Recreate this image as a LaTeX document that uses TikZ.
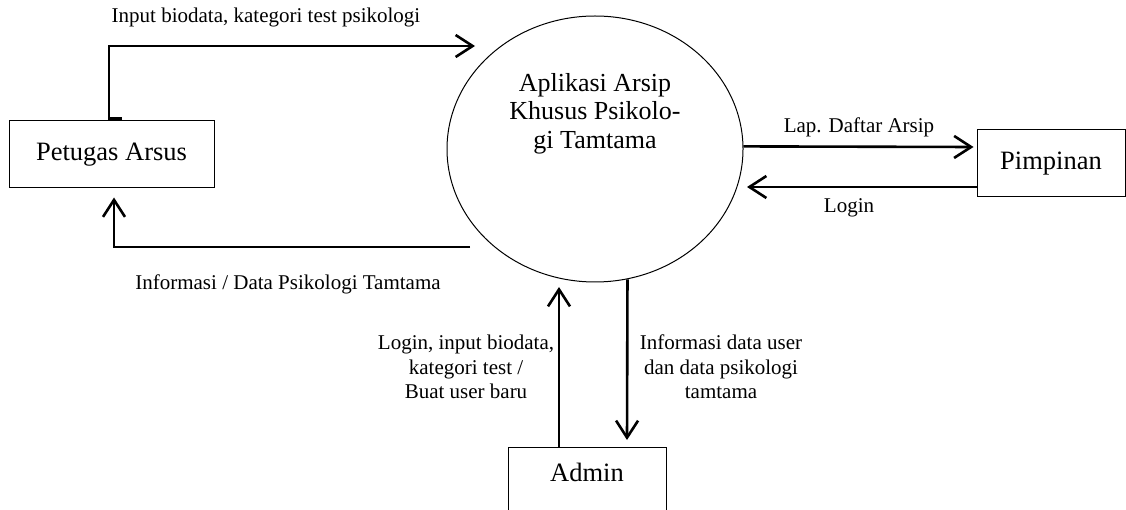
\documentclass[tikz,border=0pt]{standalone}
\usepackage{fontspec}
\setmainfont{Liberation Serif}
\usetikzlibrary{arrows.meta,shapes.geometric,calc}
\begin{document}
\begin{tikzpicture}[x=1pt,y=-1pt,
  flow/.style={line width=2.6pt,-{Straight Barb[length=17pt,width=22pt,line width=2.6pt]}},
  plainflow/.style={line width=2.6pt},
  entity/.style={draw,line width=1pt,inner sep=0pt,font=\fontsize{26.5}{28.5}\selectfont},
  lbl/.style={inner sep=0pt,align=center,font=\fontsize{21}{24.5}\selectfont}]
\useasboundingbox (0,0) rectangle (1126,510);
\clip (0,0) rectangle (1126,510);
% process
\node[ellipse,draw,line width=1pt,minimum width=296pt,minimum height=266pt,inner sep=0pt] (app) at (595,149) {};
\node[inner sep=0pt,align=center,font=\fontsize{26}{28.5}\selectfont] (apptitle) at (595,113.5) {Aplikasi Arsip\\Khusus Psikolo-\\gi Tamtama};
% entities
\node[entity,minimum width=205pt,minimum height=67pt] (pet) at (111.5,154.5) {Petugas Arsus};
\node[entity,minimum width=148pt,minimum height=67pt] (pim) at (1051,163.5) {Pimpinan};
\node[entity,minimum width=158pt,anchor=north,text height=34pt,text depth=66pt] (admin) at (587,447) {Admin};
% coordinates for free ends
\coordinate (inEnd) at (475,46);
\coordinate (infStart) at (470,247);
\coordinate (loginEnd) at (747,187);
\coordinate (upEnd) at (559,287);
% Petugas -> app
\draw[plainflow] ([xshift=10.5pt,yshift=2pt]pet.north) -- ([xshift=-2.5pt,yshift=2pt]pet.north);
\draw[flow] ([xshift=-2.5pt]pet.north) |- (inEnd);
\node[lbl] (lin) at (266,17) {Input biodata, kategori test psikologi};
% app -> Petugas
\draw[flow] (infStart) -| ([xshift=2.5pt,yshift=-9pt]pet.south);
\node[lbl] (linf) at (288,284) {Informasi / Data Psikologi Tamtama};
% app -> Pimpinan
\draw[flow] (app.1) -- ([xshift=-3pt,yshift=16.5pt]pim.west);
\node[lbl] (llap) at (859,127) {Lap. Daftar Arsip};
% Pimpinan -> app
\draw[flow] ([yshift=-23.5pt]pim.west) -- (loginEnd);
\node[lbl] (llogin) at (849,208) {Login};
% Admin -> app
\draw[flow] ([xshift=-28pt]admin.north) -- (upEnd);
\node[lbl] (ladm) at (466,367) {Login, input biodata,\\kategori test /\\Buat user baru};
% app -> Admin
\draw[flow] (app.-76) -- ([xshift=40pt,yshift=7pt]admin.north);
\node[lbl] (linfo) at (721,367) {Informasi data user\\dan data psikologi\\tamtama};
\end{tikzpicture}
\end{document}
